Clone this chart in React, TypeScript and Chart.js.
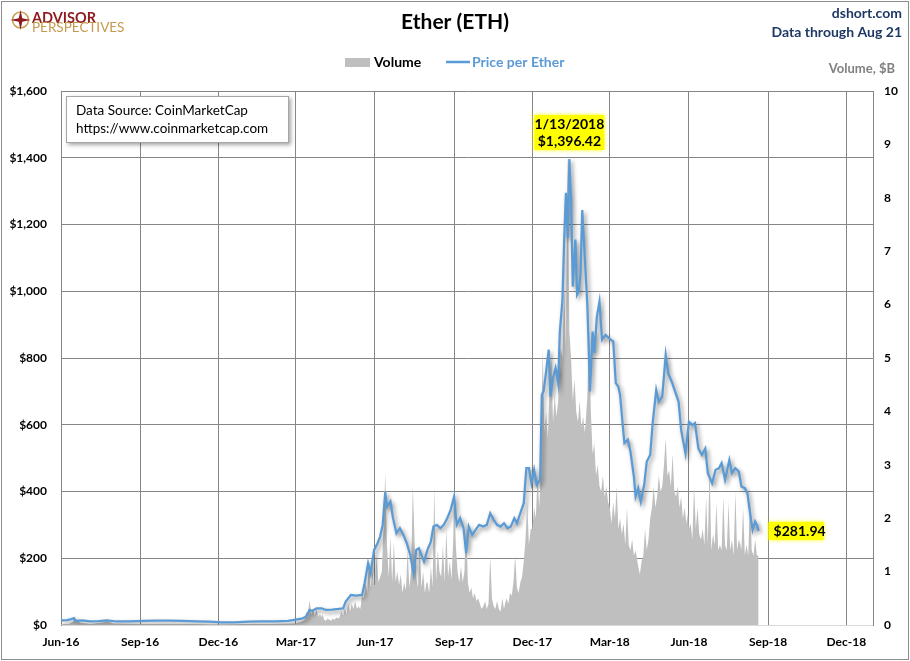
import React, { useEffect, useRef } from "react";
import { Chart, registerables } from "chart.js";
Chart.register(...registerables);

const FONT = "Lato, 'Open Sans', sans-serif";

const xTickDates = ["2016-06-01", "2016-09-01", "2016-12-01", "2017-03-01", "2017-06-01", "2017-09-01", "2017-12-01", "2018-03-01", "2018-06-01", "2018-09-01", "2018-12-01"];
const xTickLabels = ["Jun-16", "Sep-16", "Dec-16", "Mar-17", "Jun-17", "Sep-17", "Dec-17", "Mar-18", "Jun-18", "Sep-18", "Dec-18"];
const xStart = "2016-06-01";
const xEnd = "2019-01-01";

const pricePoints: [string, number][] = [
  ["2016-06-01", 14], ["2016-06-08", 14.5], ["2016-06-12", 17], ["2016-06-16", 20.5], ["2016-06-18", 12], ["2016-06-25", 13.5],
  ["2016-07-05", 11], ["2016-07-15", 11.5], ["2016-07-24", 13.5], ["2016-08-05", 10.5], ["2016-08-20", 11], ["2016-09-05", 12],
  ["2016-09-20", 13], ["2016-10-05", 13], ["2016-10-20", 12], ["2016-11-05", 11], ["2016-11-20", 10], ["2016-12-05", 8],
  ["2016-12-20", 7.5], ["2017-01-05", 10], ["2017-01-20", 10.5], ["2017-02-05", 11], ["2017-02-20", 12.5], ["2017-03-01", 16],
  ["2017-03-08", 19], ["2017-03-12", 24], ["2017-03-14", 29], ["2017-03-17", 45], ["2017-03-20", 42], ["2017-03-25", 50],
  ["2017-03-31", 50], ["2017-04-05", 45], ["2017-04-12", 46], ["2017-04-20", 48], ["2017-04-25", 50], ["2017-04-28", 70],
  ["2017-05-04", 90], ["2017-05-10", 88], ["2017-05-17", 90], ["2017-05-20", 125], ["2017-05-24", 185], ["2017-05-27", 155],
  ["2017-05-31", 225], ["2017-06-04", 245], ["2017-06-07", 265], ["2017-06-10", 300], ["2017-06-13", 398], ["2017-06-15", 355],
  ["2017-06-19", 370], ["2017-06-22", 320], ["2017-06-26", 275], ["2017-06-30", 290], ["2017-07-04", 270], ["2017-07-08", 245],
  ["2017-07-12", 210], ["2017-07-16", 155], ["2017-07-19", 225], ["2017-07-22", 230], ["2017-07-25", 210], ["2017-07-28", 190],
  ["2017-08-01", 225], ["2017-08-05", 250], ["2017-08-08", 295], ["2017-08-12", 300], ["2017-08-16", 290], ["2017-08-20", 300],
  ["2017-08-24", 320], ["2017-08-28", 345], ["2017-09-01", 385], ["2017-09-04", 300], ["2017-09-08", 320], ["2017-09-12", 290],
  ["2017-09-15", 215], ["2017-09-18", 295], ["2017-09-22", 270], ["2017-09-26", 285], ["2017-09-30", 300], ["2017-10-05", 295],
  ["2017-10-09", 300], ["2017-10-13", 335], ["2017-10-17", 315], ["2017-10-21", 300], ["2017-10-25", 295], ["2017-10-29", 305],
  ["2017-11-02", 290], ["2017-11-06", 295], ["2017-11-10", 320], ["2017-11-13", 305], ["2017-11-17", 335], ["2017-11-21", 365],
  ["2017-11-24", 470], ["2017-11-27", 470], ["2017-11-30", 425], ["2017-12-03", 465], ["2017-12-06", 420], ["2017-12-10", 435],
  ["2017-12-12", 690], ["2017-12-14", 700], ["2017-12-17", 760], ["2017-12-20", 825], ["2017-12-22", 685], ["2017-12-25", 740],
  ["2017-12-28", 770], ["2017-12-31", 725], ["2018-01-02", 880], ["2018-01-05", 975], ["2018-01-07", 1155], ["2018-01-09", 1295],
  ["2018-01-11", 1160], ["2018-01-13", 1396.42], ["2018-01-15", 1270], ["2018-01-17", 1014], ["2018-01-20", 1155], ["2018-01-22", 990],
  ["2018-01-24", 1000], ["2018-01-26", 1054], ["2018-01-28", 1243], ["2018-01-31", 1100], ["2018-02-03", 954], ["2018-02-06", 700],
  ["2018-02-09", 879], ["2018-02-11", 815], ["2018-02-14", 924], ["2018-02-17", 969], ["2018-02-20", 855], ["2018-02-24", 869],
  ["2018-03-02", 855], ["2018-03-05", 850], ["2018-03-08", 725], ["2018-03-11", 714], ["2018-03-13", 689], ["2018-03-16", 600],
  ["2018-03-18", 545], ["2018-03-22", 555], ["2018-03-25", 520], ["2018-03-29", 445], ["2018-03-31", 385], ["2018-04-03", 410],
  ["2018-04-06", 370], ["2018-04-10", 420], ["2018-04-13", 490], ["2018-04-17", 510], ["2018-04-20", 609], ["2018-04-24", 704],
  ["2018-04-27", 669], ["2018-05-01", 684], ["2018-05-05", 809], ["2018-05-08", 754], ["2018-05-12", 729], ["2018-05-16", 699],
  ["2018-05-20", 669], ["2018-05-23", 584], ["2018-05-28", 514], ["2018-06-01", 609], ["2018-06-05", 599], ["2018-06-08", 605],
  ["2018-06-12", 529], ["2018-06-16", 510], ["2018-06-20", 529], ["2018-06-23", 455], ["2018-06-28", 425], ["2018-07-02", 465],
  ["2018-07-06", 470], ["2018-07-09", 485], ["2018-07-13", 435], ["2018-07-18", 494], ["2018-07-21", 455], ["2018-07-25", 470],
  ["2018-07-29", 460], ["2018-08-01", 415], ["2018-08-05", 410], ["2018-08-08", 395], ["2018-08-10", 355], ["2018-08-14", 285],
  ["2018-08-17", 310], ["2018-08-19", 300], ["2018-08-21", 281.94],
];

// Volume ($B) before March 2017, sparse readings
const volumeEarly: [string, number][] = [
  ["2016-06-01", 0.02], ["2016-06-10", 0.02], ["2016-06-15", 0.06], ["2016-06-17", 0.15], ["2016-06-19", 0.09], ["2016-06-24", 0.04],
  ["2016-07-05", 0.02], ["2016-07-20", 0.05], ["2016-07-24", 0.08], ["2016-08-01", 0.03], ["2016-09-01", 0.02], ["2016-10-01", 0.02],
  ["2016-11-01", 0.02], ["2016-12-01", 0.01], ["2017-01-01", 0.02], ["2017-02-01", 0.02], ["2017-02-25", 0.03],
];

// Volume ($B) from March 2017: readings on days 1, 3, 5, ... of each month
const volumeByMonth: [string, number[]][] = [
  ["2017-03", [0.03, 0.04, 0.05, 0.06, 0.08, 0.1, 0.25, 0.2, 0.47, 0.2, 0.3, 0.18, 0.3, 0.15, 0.2, 0.15]],
  ["2017-04", [0.2, 0.1, 0.08, 0.12, 0.1, 0.08, 0.12, 0.1, 0.14, 0.12, 0.15, 0.25, 0.18, 0.3, 0.2]],
  ["2017-05", [0.4, 0.25, 0.4, 0.3, 0.45, 0.3, 0.35, 0.3, 0.55, 0.5, 0.8, 0.6, 1.2, 0.7, 1.0, 0.75]],
  ["2017-06", [0.8, 1.3, 0.8, 0.9, 1.0, 1.85, 2.85, 1.5, 0.9, 1.65, 0.8, 1.55, 0.8, 1.0, 0.75]],
  ["2017-07", [0.95, 0.6, 0.8, 0.65, 1.4, 0.7, 1.0, 2.6, 1.6, 0.9, 0.7, 1.5, 0.7, 1.0, 0.6, 0.8]],
  ["2017-08", [0.8, 0.6, 1.1, 0.7, 2.6, 0.8, 1.4, 1.0, 0.9, 1.5, 0.8, 1.8, 0.9, 1.2, 0.85, 1.6]],
  ["2017-09", [2.5, 1.5, 1.0, 0.8, 1.1, 0.8, 1.0, 2.0, 0.8, 0.6, 0.7, 0.5, 0.6, 0.45, 0.5]],
  ["2017-10", [0.4, 0.3, 0.35, 0.45, 0.3, 0.4, 1.3, 0.5, 0.35, 0.3, 0.45, 0.3, 0.25, 0.5, 0.3, 0.45]],
  ["2017-11", [0.5, 0.4, 0.6, 0.55, 0.8, 1.3, 0.7, 0.6, 0.8, 0.9, 1.2, 1.6, 2.3, 1.5, 1.8]],
  ["2017-12", [1.8, 2.2, 2.0, 2.8, 2.2, 3.0, 5.2, 3.6, 4.0, 3.5, 4.5, 5.0, 3.8, 4.3, 3.9, 4.2]],
  ["2018-01", [4.8, 5.2, 5.0, 6.3, 5.2, 8.9, 5.5, 5.0, 4.2, 4.6, 4.0, 3.8, 4.2, 3.7, 3.9, 3.6]],
  ["2018-02", [3.8, 4.3, 5.5, 4.0, 3.2, 3.4, 2.8, 3.0, 2.6, 2.5, 2.8, 2.4, 2.6, 2.3]],
  ["2018-03", [2.2, 1.9, 2.3, 2.0, 2.6, 1.8, 2.0, 1.7, 1.9, 1.5, 2.2, 1.5, 1.4, 1.6, 1.3, 1.4]],
  ["2018-04", [1.3, 1.1, 0.95, 1.2, 1.3, 1.8, 1.4, 1.6, 2.0, 2.2, 2.6, 2.2, 2.4, 2.8, 2.5]],
  ["2018-05", [2.6, 3.0, 3.5, 2.8, 2.9, 2.6, 3.2, 2.5, 2.4, 2.6, 2.2, 2.4, 2.0, 2.2, 1.9, 2.1]],
  ["2018-06", [1.8, 1.9, 1.6, 2.6, 1.8, 2.2, 1.7, 1.6, 1.8, 1.5, 2.4, 1.5, 3.0, 1.4, 1.7]],
  ["2018-07", [1.5, 2.3, 1.4, 1.5, 1.4, 2.4, 1.5, 1.4, 2.3, 1.4, 1.6, 1.3, 2.5, 1.4, 1.6, 1.5]],
  ["2018-08", [1.4, 2.2, 1.3, 1.5, 1.3, 2.4, 1.4, 1.3, 1.6, 1.3, 1.3]],
];

const peakDate = "2018-01-13";
const peakLabel = ["1/13/2018", "$1,396.42"];
const lastLabel = "$281.94";

const BASE = Date.UTC(2016, 5, 1);
const dayOf = (s: string) => {
  const [y, m, d] = s.split("-").map(Number);
  return (Date.UTC(y, m - 1, d) - BASE) / 86400000;
};

const volumeSeries = (): { x: number; y: number }[] => {
  const pts = volumeEarly.map(([d, v]) => ({ x: dayOf(d), y: v }));
  volumeByMonth.forEach(([ym, vals]) => {
    vals.forEach((v, i) => {
      const dd = String(1 + 2 * i).padStart(2, "0");
      pts.push({ x: dayOf(`${ym}-${dd}`), y: v });
    });
  });
  return pts;
};

const GRID = "#868686";

const decorPlugin = {
  id: "decor",
  beforeDatasetDraw(chart: any, args: any) {
    if (args.meta.yAxisID === "y") {
      const ctx = chart.ctx;
      ctx.save();
      ctx.shadowColor = "rgba(0,0,0,0.45)";
      ctx.shadowBlur = 4;
      ctx.shadowOffsetX = 2;
      ctx.shadowOffsetY = 2.5;
    }
  },
  afterDatasetDraw(chart: any, args: any) {
    if (args.meta.yAxisID === "y") chart.ctx.restore();
  },
  afterDraw(chart: any) {
    const ctx: CanvasRenderingContext2D = chart.ctx;
    const xs = chart.scales.x;
    const ys = chart.scales.y;
    ctx.save();
    ctx.strokeStyle = "#8c8c8c";
    ctx.lineWidth = 1;
    ctx.strokeRect(1.5, 1.5, 907, 658);

    // logo
    ctx.beginPath();
    ctx.arc(20.5, 20, 8, 0, Math.PI * 2);
    ctx.strokeStyle = "#C9A35C";
    ctx.lineWidth = 1.6;
    ctx.stroke();
    ctx.fillStyle = "#8E1B1F";
    ctx.beginPath();
    const cx = 20.5, cy = 20;
    for (let i = 0; i < 8; i++) {
      const a = (i * Math.PI) / 4 - Math.PI / 2;
      const r = i % 2 === 0 ? 10 : 2.5;
      const px = cx + r * Math.cos(a), py = cy + r * Math.sin(a);
      if (i === 0) ctx.moveTo(px, py); else ctx.lineTo(px, py);
    }
    ctx.closePath();
    ctx.fill();
    ctx.textAlign = "left";
    ctx.textBaseline = "alphabetic";
    ctx.fillStyle = "#8E1B1F";
    ctx.font = `bold 14.5px ${FONT}`;
    ctx.fillText("ADVISOR", 32, 22.5);
    ctx.fillStyle = "#C49A4E";
    ctx.font = `13.5px ${FONT}`;
    ctx.fillText("PERSPECTIVES", 32, 32);

    // title
    ctx.textBaseline = "middle";
    ctx.textAlign = "center";
    ctx.fillStyle = "#000";
    ctx.font = `bold 21px ${FONT}`;
    ctx.fillText("Ether (ETH)", 455, 22);

    ctx.textAlign = "right";
    ctx.fillStyle = "#1F3864";
    ctx.font = `bold 14px ${FONT}`;
    ctx.fillText("dshort.com", 902, 13);
    ctx.fillText("Data through Aug 21", 902, 32);

    // legend
    ctx.fillStyle = "#BFBFBF";
    ctx.fillRect(345, 58, 25, 9);
    ctx.textAlign = "left";
    ctx.fillStyle = "#000";
    ctx.font = `bold 14px ${FONT}`;
    ctx.fillText("Volume", 374, 62);
    ctx.strokeStyle = "#5B9BD5";
    ctx.lineWidth = 2.5;
    ctx.beginPath();
    ctx.moveTo(446, 62);
    ctx.lineTo(470, 62);
    ctx.stroke();
    ctx.fillStyle = "#5B9BD5";
    ctx.fillText("Price per Ether", 472, 62);

    ctx.textAlign = "right";
    ctx.fillStyle = "#808080";
    ctx.font = `bold 13px ${FONT}`;
    ctx.fillText("Volume, $B", 895, 69);

    // data source box
    ctx.save();
    ctx.shadowColor = "rgba(0,0,0,0.35)";
    ctx.shadowBlur = 4;
    ctx.shadowOffsetX = 2;
    ctx.shadowOffsetY = 2;
    ctx.fillStyle = "#fff";
    ctx.fillRect(66, 96, 223, 47);
    ctx.restore();
    ctx.strokeStyle = "#A6A6A6";
    ctx.lineWidth = 1;
    ctx.strokeRect(66.5, 96.5, 222, 46);
    ctx.textAlign = "left";
    ctx.fillStyle = "#000";
    ctx.font = `13.5px ${FONT}`;
    ctx.fillText("Data Source: CoinMarketCap", 76, 111);
    ctx.fillText("https://www.coinmarketcap.com", 76, 129);

    const drawYellow = (x: number, y: number, w: number, h: number) => {
      ctx.save();
      ctx.shadowColor = "rgba(255,255,0,0.9)";
      ctx.shadowBlur = 4;
      ctx.fillStyle = "#FFFF00";
      ctx.fillRect(x, y, w, h);
      ctx.restore();
    };
    const px = xs.getPixelForValue(dayOf(peakDate));
    drawYellow(px - 35, 115, 70, 35);
    ctx.textAlign = "center";
    ctx.fillStyle = "#000";
    ctx.font = `bold 14px ${FONT}`;
    ctx.fillText(peakLabel[0], px, 124.5);
    ctx.fillText(peakLabel[1], px, 141.5);

    const last = pricePoints[pricePoints.length - 1];
    const lx = xs.getPixelForValue(dayOf(last[0]));
    const ly = ys.getPixelForValue(last[1]);
    drawYellow(lx + 10, ly - 9, 55, 18);
    ctx.textAlign = "left";
    ctx.fillStyle = "#000";
    ctx.fillText(lastLabel, lx + 15, ly + 0.5);
    ctx.restore();
  },
};

export default function App() {
  const ref = useRef<HTMLCanvasElement>(null);
  useEffect(() => {
    const canvas = ref.current!;
    const tickFont = { family: FONT, size: 12, weight: "bold" as const };
    const chart = new Chart(canvas, {
      type: "line",
      data: {
        datasets: [
          {
            label: "Price per Ether",
            data: pricePoints.map(([d, v]) => ({ x: dayOf(d), y: v })),
            borderColor: "#5B9BD5",
            borderWidth: 2.25,
            pointRadius: 0,
            tension: 0,
            fill: false,
            yAxisID: "y",
            order: 0,
          },
          {
            label: "Volume",
            data: volumeSeries(),
            borderColor: "#BFBFBF",
            borderWidth: 0,
            backgroundColor: "#BFBFBF",
            pointRadius: 0,
            tension: 0,
            fill: "origin",
            yAxisID: "y1",
            order: 1,
          },
        ],
      },
      options: {
        responsive: false,
        animation: false,
        events: [],
        layout: { padding: { top: 91, left: 0, right: 0, bottom: 0 } },
        plugins: { legend: { display: false }, tooltip: { enabled: false }, title: { display: false } },
        scales: {
          x: {
            type: "linear",
            min: dayOf(xStart),
            max: dayOf(xEnd),
            afterBuildTicks: (s: any) => {
              s.ticks = xTickDates.map((d) => ({ value: dayOf(d) }));
            },
            afterFit: (s: any) => {
              s.height = 36;
            },
            ticks: {
              autoSkip: false,
              maxRotation: 0,
              padding: 10,
              color: "#000",
              font: tickFont,
              callback: (v: any) => {
                const i = xTickDates.findIndex((d) => dayOf(d) === v);
                return i >= 0 ? xTickLabels[i] : "";
              },
            },
            grid: { color: GRID, drawTicks: false, lineWidth: 1 },
            border: { color: "#D9D9D9" },
          },
          y: {
            position: "left",
            min: 0,
            max: 1600,
            afterFit: (s: any) => {
              s.width = 61;
            },
            ticks: {
              stepSize: 200,
              padding: 14,
              color: "#000",
              font: tickFont,
              callback: (v: any) => "$" + Number(v).toLocaleString("en-US"),
            },
            grid: {
              color: (c: any) => (c.tick && c.tick.value === 0 ? "#D9D9D9" : GRID),
              drawTicks: false,
            },
            border: { color: GRID },
          },
          y1: {
            position: "right",
            min: 0,
            max: 10,
            afterFit: (s: any) => {
              s.width = 37;
            },
            ticks: { stepSize: 1, padding: 11, color: "#000", font: tickFont },
            grid: { drawOnChartArea: false, drawTicks: false },
            border: { color: GRID },
          },
        },
      },
      plugins: [decorPlugin],
    } as any);
    return () => chart.destroy();
  }, []);
  return (
    <div style={{ position: "fixed", left: 0, top: 0, width: 910, height: 661, background: "#fff" }}>
      <canvas ref={ref} width={910} height={661} style={{ width: 910, height: 661, display: "block" }} />
    </div>
  );
}
